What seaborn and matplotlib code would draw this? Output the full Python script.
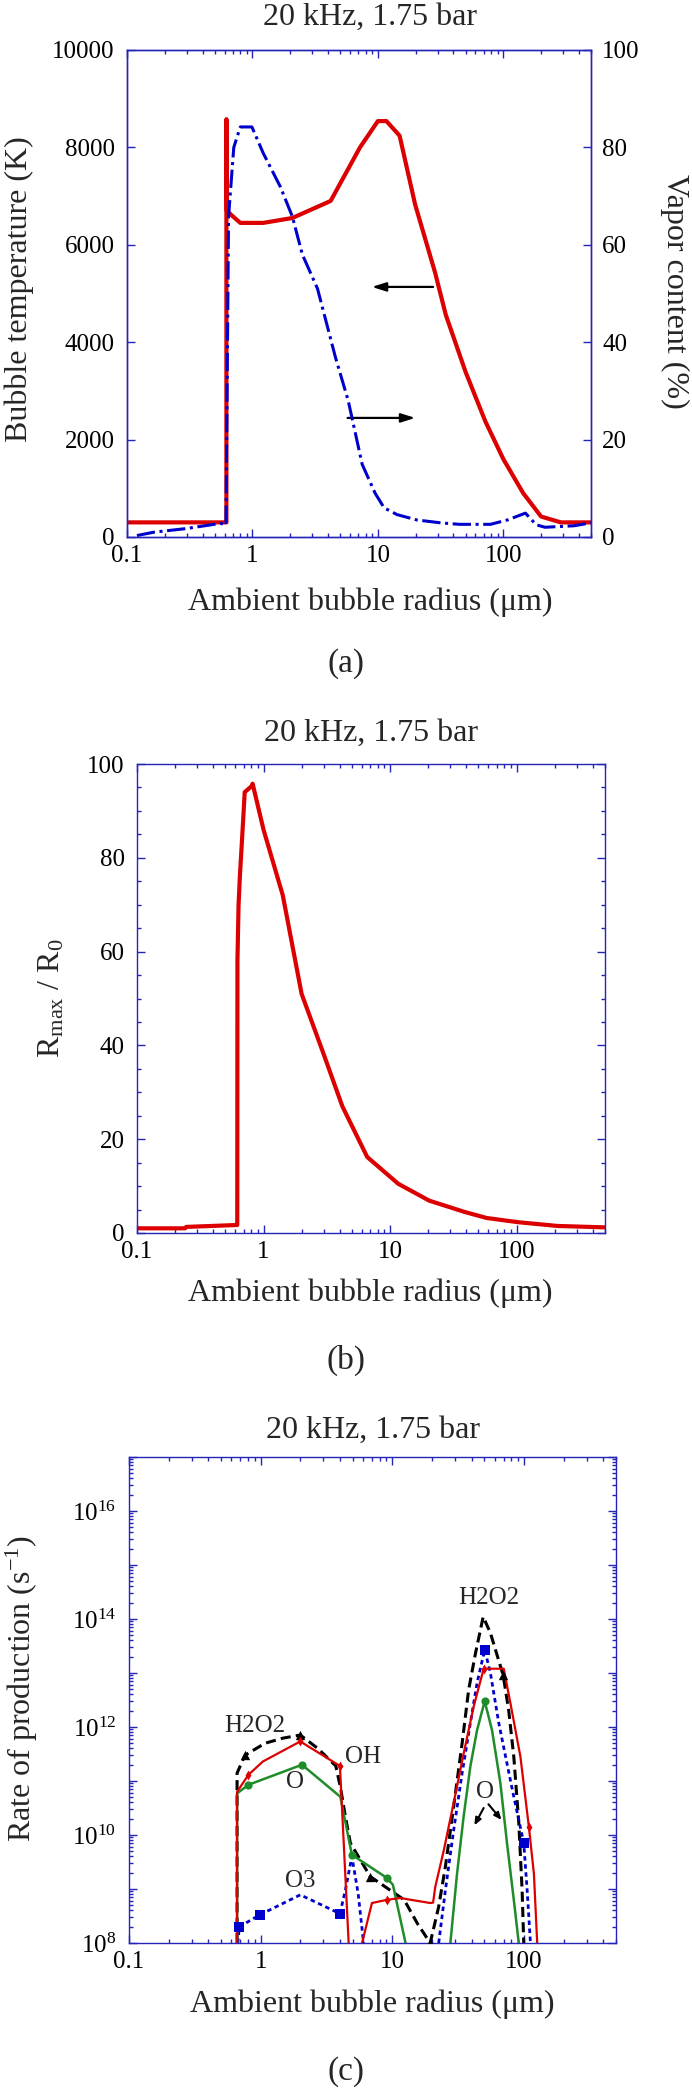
import numpy as np
import pandas as pd
import matplotlib
matplotlib.use("Agg")
import matplotlib.pyplot as plt
import matplotlib.ticker as mticker
import seaborn as sns

nan = np.nan

####################################
# (a) bubble temperature / vapor content
####################################
temp_r = [0.1, 0.62, 0.62, 0.625, 0.68, 0.8, 1.22, 2.08, 4.2, 7.2, 10.0, 11.7,
          14.9, 19.8, 28.5, 34.8, 50, 72, 100, 144, 200, 287, 500]
temp_K = [300, 300, 8580, 6700, 6610, 6450, 6450, 6550, 6900, 8000, 8540, 8540,
          8240, 6830, 5440, 4560, 3390, 2370, 1600, 900, 420, 300, 300]

vap_r = [0.12, 0.165, 0.29, 0.56, 0.615, 0.645, 0.71, 0.8, 0.99, 1.22, 1.67, 2.08,
         2.5, 3.3, 4.6, 5.8, 7.5, 9.5, 11.2, 14.2, 20.4, 31.8, 44.6, 79, 108, 150,
         183, 215, 365, 500]
vap_pct = [0.3, 1.0, 1.7, 2.8, 2.4, 65.8, 80, 84.2, 84.2, 78.8, 71.9, 65.8,
           58, 51, 36.8, 28, 14.9, 9, 6, 4.6, 3.5, 2.9, 2.6, 2.6, 3.5, 4.9,
           2.5, 2.0, 2.3, 2.9]

####################################
# (b) Rmax / R0
####################################
rmax_r = [0.1, 0.24, 0.245, 0.61, 0.62, 0.622, 0.635, 0.65, 0.67, 0.69, 0.71, 0.80,
          0.82, 1.0, 1.42, 2.0, 3.0, 4.2, 6.6, 11.6, 20.4, 38.7, 58, 103, 211, 500]
rmax_ratio = [1.0, 1.0, 1.3, 1.7, 1.7, 58, 70, 76, 82, 88, 94, 95.2,
              95.8, 86, 72, 51, 38, 27, 16.2, 10.5, 6.9, 4.5, 3.2, 2.3, 1.5, 1.2]

####################################
# (c) rate of production (nan = curve leaves the axis)
####################################
oh_r = [0.662, 0.662, 0.807, 1.04, 2.0, 4.0, 4.66, nan, 5.89, 7.0, 9.1, 11.5, 19.4,
        20.4, 21.2, 24.6, 29.2, 34.8, 41.5, 49.4, 70.2, 78.8, 94, 109, 119, 126]
oh_rate = [1e8, 6.3e10, 1.3e11, 2.3e11, 5.4e11, 1.9e11, 1e8, nan, 1e8, 5.5e8, 6.3e8, 6.8e8, 5.5e8,
           5.6e8, 1.1e9, 5.2e9, 3.9e10, 3.2e11, 2.4e12, 1.2e13, 1.2e13, 2.8e12, 2.8e11, 1.4e10, 1.9e9, 1e8]
oh_mark = [0.807, 2.0, 4.0, 9.1, 49.4, 109]

o_r = [0.662, 0.662, 0.807, 2.06, 4.03, 4.93, 9.1, 10.1, 12.6, nan,
       27.6, 31, 34.8, 39.2, 44, 50.3, 57.2, 66.2, 74.3, 83.7, 91.3]
o_rate = [1e8, 5.9e10, 8.5e10, 2.0e11, 5.1e10, 4.3e9, 1.6e9, 1.2e9, 1e8, nan,
          1e8, 1.9e9, 2.2e10, 1.9e11, 8.7e11, 3.0e12, 8.7e11, 9.1e10, 7.1e9, 6.3e8, 1e8]
o_mark = [0.807, 2.06, 4.93, 9.1, 50.3]

h2o2_r = [0.662, 0.662, 0.76, 1.08, 1.47, 2.0, 2.72, 3.72, 4.03, 4.4, 4.8, 6.8, 12.3, 15.5,
          19.4, 22.5, 25.3, 29.2, 33.9, 38, 42.8, 49, 55.6, 64.3, 69.5, 76.6, 83.7, 91.3,
          96.8, 99.6]
h2o2_rate = [1e8, 1.4e11, 3e11, 5e11, 6.2e11, 7.1e11, 4e11, 1.9e11, 7.8e10, 2.2e10, 7.1e9, 1.7e9,
             6.3e8, 2.3e8, 1e8, 4.7e8, 2.6e9, 3.3e10, 5e11, 4.9e12, 2.3e13, 1.1e14, 5.5e13,
             1.7e13, 9.1e12, 2e12, 2.8e11, 1.7e10, 9.5e8, 1e8]
h2o2_mark = [0.76, 2.0, 6.8, 19.4, 69.5]

o3_r = [0.67, 0.69, 0.98, 2.0, 4.0, 4.4, 4.93, 5.5, 6.05, nan, 22.5, 25.3, 29.2, 33.9,
        39.2, 44, 50.3, 55.6, 64.3, 74.3, 83.7, 99.6, 105.7, 112]
o3_rate = [1e8, 2e8, 3.3e8, 7.8e8, 3.5e8, 9.5e8, 4e9, 8.3e8, 1e8, nan, 1e8, 9.5e8, 1.2e10,
           1.4e11, 1.2e12, 6.5e12, 2.7e13, 1e13, 1.2e12, 2.1e11, 5.1e10, 7.1e9, 9.5e8, 1e8]
o3_mark = [0.69, 0.98, 4.0, 50.3, 99.6]

title = "20 kHz, 1.75 bar"
xlab = "Ambient bubble radius (\u03bcm)"
r_ticks = [0.1, 1, 10, 100]

####################################
# style
####################################
sns.set_theme(style="ticks")
plt.rcParams["font.family"] = ["Liberation Serif", "DejaVu Serif"]
plt.rcParams["mathtext.fontset"] = "custom"
plt.rcParams["mathtext.rm"] = "Liberation Serif"
plt.rcParams["mathtext.it"] = "Liberation Serif:italic"
plt.rcParams["axes.linewidth"] = 1.0

BLUE_AX = "#2424b8"
RED = "#dc0000"
BLUE = "#0000cc"
GREEN = "#1f8c2a"


def style_axis(ax, right=True, ypad=9):
    ax.set_xscale("log")
    ax.set_xlim(0.1, 500)
    for s in ax.spines.values():
        s.set_color(BLUE_AX)
    ax.xaxis.set_major_locator(mticker.FixedLocator(r_ticks))
    ax.xaxis.set_major_formatter(mticker.FuncFormatter(lambda v, p: f"{v:g}"))
    ax.xaxis.set_minor_locator(mticker.LogLocator(subs=np.arange(2, 10), numticks=20))
    ax.tick_params(which="major", direction="in", length=5.5, width=1, color=BLUE_AX,
                   top=True, right=right, labelsize=18, labelcolor="black")
    ax.tick_params(which="minor", direction="in", length=3, width=1, color=BLUE_AX,
                   top=True, right=right)
    ax.tick_params(axis="x", which="major", pad=6)
    ax.tick_params(axis="y", which="major", pad=ypad)


fig = plt.figure(figsize=(6.92, 20.91), dpi=100)

####################################
# (a)
####################################
ax1 = fig.add_axes([0.18353, 0.74319, 0.67052, 0.23290])
style_axis(ax1, right=False, ypad=9)
sns.lineplot(x=temp_r, y=temp_K, sort=False, estimator=None, color=RED, lw=3, ax=ax1)
ax1.set_ylim(0, 10000)
ax1.yaxis.set_major_locator(mticker.MultipleLocator(2000))
ax1.yaxis.set_minor_locator(mticker.NullLocator())

ax1b = ax1.twinx()
sns.lineplot(x=vap_r, y=vap_pct, sort=False, estimator=None, color=BLUE, lw=2.2,
             linestyle=(0, (6, 1.5, 1, 1.5)), ax=ax1b)
ax1b.set_ylim(0, 100)
ax1b.yaxis.set_major_locator(mticker.MultipleLocator(20))
for s in ax1b.spines.values():
    s.set_color(BLUE_AX)
ax1b.tick_params(axis="y", which="major", direction="in", length=5.5, width=1,
                 color=BLUE_AX, labelsize=18, labelcolor="black", pad=8)

ax1.annotate("", xy=(8.5, 5135), xytext=(29, 5135),
             arrowprops=dict(arrowstyle="-|>,head_length=0.7,head_width=0.22", color="black", lw=1.6))
ax1.annotate("", xy=(20.9, 2445), xytext=(5.45, 2445),
             arrowprops=dict(arrowstyle="-|>,head_length=0.7,head_width=0.22", color="black", lw=1.6))

ax1.set_title(title, fontsize=23, pad=18, x=0.523)
ax1.set_xlabel(xlab, fontsize=23)
ax1.xaxis.set_label_coords(0.525, -0.104)
ax1.set_ylabel("Bubble temperature (K)", fontsize=23)
ax1.yaxis.set_label_coords(-0.200, 0.508)
ax1b.set_ylabel("Vapor content (%)", fontsize=23, rotation=270, va="bottom")
ax1b.yaxis.set_label_coords(1.149, 0.505)

####################################
# (b)
####################################
ax2 = fig.add_axes([0.19798, 0.41033, 0.67630, 0.22429])
style_axis(ax2, right=True, ypad=9)
sns.lineplot(x=rmax_r, y=rmax_ratio, sort=False, estimator=None, color=RED, lw=3, ax=ax2)
ax2.set_ylim(0, 100)
ax2.yaxis.set_major_locator(mticker.MultipleLocator(20))
ax2.yaxis.set_minor_locator(mticker.MultipleLocator(5))
ax2.set_title(title, fontsize=23, pad=17)
ax2.set_xlabel(xlab, fontsize=23)
ax2.xaxis.set_label_coords(0.499, -0.098)
ax2.set_ylabel(r"R$_{\mathrm{max}}$ / R$_{\mathrm{0}}$", fontsize=23)
ax2.yaxis.set_label_coords(-0.150, 0.501)

####################################
# (c)
####################################
ax3 = fig.add_axes([0.18642, 0.07078, 0.70376, 0.23243])
style_axis(ax3, right=True, ypad=9)
ax3.set_yscale("log")


def draw_rate(ax, r, rate, mark, color, ls, lw, marker, ms):
    df = pd.DataFrame({"r": r, "rate": rate})
    df["seg"] = df["rate"].isna().cumsum()
    df = df.dropna()
    sns.lineplot(data=df, x="r", y="rate", units="seg", estimator=None, sort=False,
                 color=color, linestyle=ls, lw=lw, ax=ax)
    pts = df[df["r"].isin(mark)]
    sns.scatterplot(data=pts, x="r", y="rate", marker=marker, s=ms, color=color,
                    edgecolor=color, linewidth=0, ax=ax, zorder=5, clip_on=True)


draw_rate(ax3, h2o2_r, h2o2_rate, h2o2_mark, "black", (0, (3.3, 1.7)), 2.2, "^", 45)
draw_rate(ax3, o3_r, o3_rate, o3_mark, BLUE, (0, (1.6, 1.3)), 2.0, "s", 45)
draw_rate(ax3, o_r, o_rate, o_mark, GREEN, "-", 1.8, "o", 35)
draw_rate(ax3, oh_r, oh_rate, oh_mark, RED, "-", 1.6, "d", 25)

ax3.set_xlim(0.1, 500)
ax3.set_ylim(1e8, 1e17)
ax3.yaxis.set_major_locator(mticker.LogLocator(base=10, numticks=20))
ax3.yaxis.set_major_formatter(mticker.FuncFormatter(
    lambda v, p: f"$10^{{{int(round(np.log10(v)))}}}$" if int(round(np.log10(v))) % 2 == 0 else ""))
ax3.yaxis.set_minor_locator(mticker.LogLocator(base=10, subs=np.arange(2, 10), numticks=20))
ax3.yaxis.set_minor_formatter(mticker.NullFormatter())

for txt, xx, yy in [("H2O2", 0.91, 10**12.02), ("OH", 6.0, 10**11.45), ("O", 1.82, 10**10.99),
                    ("O3", 2.0, 10**9.15), ("H2O2", 53.7, 10**14.38), ("O", 51, 10**10.80)]:
    ax3.text(xx, yy, txt, fontsize=18, ha="center", va="center")
ax3.annotate("", xy=(42.0, 10**10.18), xytext=(49.4, 10**10.50),
             arrowprops=dict(arrowstyle="-|>,head_length=0.35,head_width=0.15", color="black",
                             lw=1.5, shrinkA=0, shrinkB=0))
ax3.annotate("", xy=(67.5, 10**10.28), xytext=(53.7, 10**10.57),
             arrowprops=dict(arrowstyle="-|>,head_length=0.35,head_width=0.15", color="black",
                             lw=1.5, shrinkA=0, shrinkB=0))

ax3.set_title(title, fontsize=23, pad=13.7)
ax3.set_xlabel(xlab, fontsize=23)
ax3.xaxis.set_label_coords(0.4985, -0.0947)
ax3.set_ylabel(r"Rate of production (s$^{-1}$)", fontsize=23)
ax3.yaxis.set_label_coords(-0.183, 0.523)

fig.text(0.5, 0.68245, "(a)", fontsize=24, ha="center", va="center")
fig.text(0.5, 0.34959, "(b)", fontsize=24, ha="center", va="center")
fig.text(0.5, 0.00909, "(c)", fontsize=24, ha="center", va="center")

fig.savefig("out.png", dpi=100)
